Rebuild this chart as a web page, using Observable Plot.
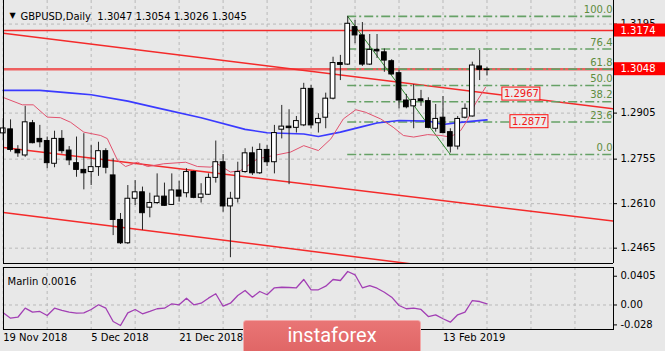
<!DOCTYPE html>
<html><head><meta charset="utf-8">
<script src="https://cdn.jsdelivr.net/npm/d3@7"></script>
<script src="https://cdn.jsdelivr.net/npm/@observablehq/plot@0.6"></script>
<style>
html,body{margin:0;padding:0;background:#e8e8e8;}
#chart{position:relative;width:665px;height:351px;overflow:hidden;background:#e8e8e8;}
#chart svg{position:absolute;left:0;overflow:hidden;}
#logo{position:absolute;left:243px;top:320px;width:178px;height:40px;box-sizing:border-box;
  background:linear-gradient(#e97575,#de6262);border:1px solid #f2a9a9;border-radius:3px;
  color:#fff;font-family:Roboto,"Liberation Sans",sans-serif;font-size:20px;text-align:center;line-height:29px;}
</style></head>
<body><div id="chart"><div id="logo">instaforex</div></div>
<script>
// ---- data (bar index 0 = 19 Nov 2018 ... 66 = 21 Feb 2019) ----
const symbol = "GBPUSD", timeframe = "Daily";
const opens  = [1.2839,1.2852,1.2785,1.2767,1.2872,1.2821,1.2814,1.2740,1.2821,1.2783,1.2742,1.2720,1.2713,1.2729,1.2781,1.2702,1.2557,1.2481,1.2626,1.2647,1.2597,1.2612,1.2633,1.2606,1.2653,1.2644,1.2713,1.2629,1.2639,1.2694,1.2745,1.2601,1.2626,1.2713,1.2774,1.2709,1.2785,1.2745,1.2851,1.2861,1.2857,1.2865,1.2984,1.2872,1.2890,1.2952,1.3068,1.3063,1.3185,1.3158,1.3063,1.3111,1.3103,1.3074,1.3035,1.2946,1.2927,1.2950,1.2944,1.2854,1.2890,1.2843,1.2796,1.2890,1.2894,1.3057,1.3047];
const highs  = [1.2887,1.2883,1.2799,1.2927,1.2881,1.2865,1.2827,1.2846,1.2848,1.2796,1.2827,1.2838,1.2799,1.2810,1.2789,1.2756,1.2578,1.2669,1.2685,1.2664,1.2644,1.2707,1.2677,1.2707,1.2683,1.2724,1.2716,1.2675,1.2707,1.2814,1.2770,1.2647,1.2745,1.2789,1.2794,1.2805,1.2799,1.2865,1.2930,1.2916,1.2894,1.3002,1.2995,1.2903,1.2970,1.3087,1.3093,1.3220,1.3207,1.3200,1.3161,1.3161,1.3114,1.3079,1.3044,1.2966,1.2998,1.2979,1.2955,1.2933,1.2959,1.2854,1.2894,1.2935,1.3071,1.3109,1.3054];
const lows   = [1.2816,1.2778,1.2761,1.2761,1.2805,1.2792,1.2724,1.2727,1.2772,1.2734,1.2696,1.2655,1.2669,1.2699,1.2707,1.2506,1.2477,1.2477,1.2604,1.2523,1.2564,1.2607,1.2601,1.2604,1.2615,1.2629,1.2626,1.2612,1.2637,1.2677,1.2582,1.2434,1.2612,1.2709,1.2702,1.2705,1.2731,1.2707,1.2821,1.2672,1.2840,1.2861,1.2854,1.2840,1.2854,1.2948,1.3011,1.3060,1.3131,1.3057,1.3060,1.3083,1.3038,1.3028,1.2919,1.2919,1.2854,1.2927,1.2854,1.2843,1.2838,1.2775,1.2785,1.2886,1.2892,1.3011,1.3026];
const closes = [1.2855,1.2785,1.2774,1.2875,1.2807,1.2810,1.2742,1.2821,1.2781,1.2751,1.2720,1.2709,1.2729,1.2781,1.2727,1.2557,1.2481,1.2626,1.2647,1.2579,1.2612,1.2633,1.2603,1.2653,1.2633,1.2713,1.2629,1.2640,1.2694,1.2745,1.2601,1.2626,1.2713,1.2774,1.2709,1.2785,1.2745,1.2840,1.2861,1.2856,1.2879,1.2984,1.2865,1.2886,1.2952,1.3068,1.3062,1.3196,1.3158,1.3063,1.3111,1.3106,1.3076,1.3031,1.2946,1.2924,1.2948,1.2944,1.2857,1.2886,1.2840,1.2796,1.2886,1.2919,1.3060,1.3046,1.3045];
const marlin = [-0.0110,-0.0186,-0.0172,-0.0045,-0.0101,-0.0091,-0.0148,-0.0045,-0.0077,-0.0101,-0.0115,-0.0110,-0.0063,0.0003,-0.0045,-0.0232,-0.0288,-0.0110,-0.0063,-0.0124,-0.0091,-0.0053,-0.0045,0.0017,0.0003,0.0096,0.0003,0.0025,0.0096,0.0158,-0.0017,0.0025,0.0134,0.0204,0.0110,0.0190,0.0144,0.0242,0.0250,0.0246,0.0242,0.0359,0.0214,0.0214,0.0265,0.0359,0.0345,0.0471,0.0425,0.0242,0.0274,0.0236,0.0180,0.0110,-0.0007,-0.0053,-0.0045,-0.0063,-0.0162,-0.0138,-0.0194,-0.0242,-0.0138,-0.0101,0.0063,0.0049,0.0016];

// moving average (blue) and thin crimson curve, read at sample bars
const maIdx = [0,5,9,12,17,21,27,33,36,41,43,46,49,51,54,58,60,62,66];
const maVal = [1.2979,1.2979,1.2971,1.2965,1.2944,1.2922,1.2890,1.2852,1.2841,1.2837,1.2829,1.2843,1.2861,1.2873,1.2881,1.2879,1.2868,1.2874,1.2883];
const curveIdx = [0,2.6,4.1,6,7.8,9.2,11,13.3,14.2,15.6,16.7,18.3,19.7,21.9,24.9,26.5,28.3,29.2,31,32.4,34.7,36.9,39.2,41,43,44.7,46.4,48.1,49.4,51.5,53.2,54.6,56,57.9,59.7,61,62.4,63.3,64.4,65.8];
const curveVal = [1.2956,1.2932,1.2932,1.2892,1.2890,1.2875,1.2843,1.2832,1.2822,1.2751,1.2731,1.2745,1.2731,1.2740,1.2745,1.2731,1.2729,1.2740,1.2713,1.2718,1.2756,1.2767,1.2778,1.2799,1.2783,1.2821,1.2886,1.2916,1.2908,1.2886,1.2859,1.2832,1.2827,1.2835,1.2832,1.2827,1.2848,1.2881,1.2935,1.2989];

// trend lines (channel)
const trendStartIdx = [0.04, 0.04, 0.04];
const trendStartPrice = [1.3165, 1.2793, 1.2581];
const trendEndIdx = [83.26, 83.26, 83.26];
const trendEndPrice = [1.2919, 1.2553, 1.2331];

// horizontal levels
const redLevels = [1.3174];
const currentLevel = [1.3048];
const axisBoxPrices = [1.3174, 1.3048];

// fibonacci retracement
const fibPct = [0, 23.6, 38.2, 50, 61.8, 76.4, 100];
const fibLow = 1.2770, fibHigh = 1.3220, fibHighIdx = 47, fibLowIdx = 61;

// in-chart price labels
const chartLabelIdx = [68.1, 69.2];
const chartLabelPrice = [1.2967, 1.2877];

// axes
const yTicks = [1.2465, 1.2610, 1.2755, 1.2905, 1.3050, 1.3195];
const indTicks = [0.0405, 0, -0.028];
const indTickLabels = ["0.0405", "0.00", "-0.028"];
const gridIdx = [0,6,12,18,24,30,36,42,48,54,60,66,72,78];
const dateIdx = [0,12,24,60];
const dateLabels = ["19 Nov 2018","5 Dec 2018","21 Dec 2018","13 Feb 2019"];

// ---- build ----
const xDomain = [0.04, 83.26];
const yDomain = [1.24151, 1.32718];
const bars = opens.map((o, i) => ({i, o, h: highs[i], l: lows[i], c: closes[i]}));
const ma = maIdx.map((i, k) => ({i, p: maVal[k]}));
const curve = curveIdx.map((i, k) => ({i, p: curveVal[k]}));
const trends = trendStartIdx.map((x, k) => ({x1: x, y1: trendStartPrice[k], x2: trendEndIdx[k], y2: trendEndPrice[k]}));
const fib = fibPct.map(p => ({pct: p, p: fibLow + p / 100 * (fibHigh - fibLow)}));
const chartLabels = chartLabelIdx.map((i, k) => ({i, p: chartLabelPrice[k]}));
const last = bars[bars.length - 1];
const header = `${symbol},${timeframe}  ${last.o.toFixed(4)} ${last.h.toFixed(4)} ${last.l.toFixed(4)} ${last.c.toFixed(4)}`;

const font = {background: "transparent", fontFamily: "DejaVu Sans", fontSize: "10px", color: "#000"};
const gridStyle = {stroke: "#b9b9b9", strokeDasharray: "3,3", strokeWidth: 1};
const red = "#f42a2a";

const main = Plot.plot({
  width: 665, height: 264,
  marginLeft: 3, marginRight: 52, marginTop: 0, marginBottom: 1,
  style: font,
  x: {domain: xDomain, axis: null},
  y: {domain: yDomain, axis: null},
  marks: [
    Plot.ruleX(gridIdx, gridStyle),
    Plot.ruleY(yTicks, gridStyle),
    Plot.ruleY(currentLevel, {stroke: "#ee5f5f", strokeWidth: 2.6}),
    Plot.ruleY(redLevels, {stroke: red, strokeWidth: 1.4}),
    Plot.link(trends, {x1: "x1", y1: "y1", x2: "x2", y2: "y2", stroke: red, strokeWidth: 1.5, clip: true}),
    Plot.ruleY(fib, {y: "p", x1: fibHighIdx, x2: xDomain[1], stroke: "#66a166", strokeWidth: 1.6, strokeDasharray: "9,3,2,3"}),
    Plot.link([{}], {x1: fibHighIdx, y1: fibHigh, x2: fibLowIdx, y2: fibLow, stroke: "#2f8a2f", strokeWidth: 1}),
    Plot.line(ma, {x: "i", y: "p", stroke: "#3a3aff", strokeWidth: 1.6}),
    Plot.line(curve, {x: "i", y: "p", stroke: "#e2526e", strokeWidth: 1}),
    Plot.ruleX(bars, {x: "i", y1: "l", y2: "h", stroke: "#262626", strokeWidth: 1}),
    Plot.rect(bars, {x1: d => d.i - 0.5, x2: d => d.i + 0.5,
      y1: d => Math.min(d.o, d.c), y2: d => Math.max(d.o, d.c),
      fill: d => d.c > d.o ? "#ffffff" : "#000000", stroke: "#000", strokeWidth: 1,
      insetLeft: 1.3, insetRight: 1.3}),
    Plot.text(fib, {x: xDomain[1], y: "p", text: d => d.pct.toFixed(1), textAnchor: "end", dx: -1, dy: -6.5, fill: "#5e8c3e"}),
    Plot.rect(chartLabels, {x1: "i", x2: "i", y1: "p", y2: "p", insetRight: -38, insetTop: -6.5, insetBottom: -6.5, fill: "#ececec", stroke: "#ff1010", strokeWidth: 1}),
    Plot.text(chartLabels, {x: "i", y: "p", text: d => d.p.toFixed(4), dx: 19, fill: "#f01818"}),
    Plot.ruleY(yTicks, {x1: xDomain[1], x2: xDomain[1], insetRight: -4, stroke: "#000"}),
    Plot.text(yTicks, {x: xDomain[1], y: d => d, text: d => d.toFixed(4), textAnchor: "start", dx: 7}),
    Plot.rect(axisBoxPrices, {x1: xDomain[1], x2: xDomain[1], y1: d => d, y2: d => d, insetRight: -52, insetTop: -6.5, insetBottom: -6.5, fill: "#ff0000"}),
    Plot.text(axisBoxPrices, {x: xDomain[1], y: d => d, text: d => d.toFixed(4), textAnchor: "start", dx: 7, fill: "#ffffff"}),
    Plot.text([header], {frameAnchor: "top-left", text: d => d, textAnchor: "start", dx: 17, dy: 12}),
    Plot.text(["\u25BC"], {frameAnchor: "top-left", text: d => d, dx: 6, dy: 12, fontSize: 8}),
    Plot.ruleX([xDomain[0], xDomain[1]], {stroke: "#000"}),
    Plot.ruleY([yDomain[0]], {stroke: "#000"})
  ]
});

const ind = Plot.plot({
  width: 665, height: 87,
  marginLeft: 3, marginRight: 52, marginTop: 3, marginBottom: 22,
  style: font,
  x: {domain: xDomain, axis: null},
  y: {domain: [-0.03448, 0.05277], axis: null},
  marks: [
    Plot.ruleX(gridIdx, gridStyle),
    Plot.ruleY([0], gridStyle),
    Plot.line(marlin.map((v, i) => ({i, v})), {x: "i", y: "v", stroke: "#a23fb4", strokeWidth: 1.3}),
    Plot.frame({stroke: "#000"}),
    Plot.text([`Marlin ${marlin[marlin.length - 1].toFixed(4)}`], {frameAnchor: "top-left", text: d => d, textAnchor: "start", dx: 4, dy: 10.5}),
    Plot.ruleY(indTicks, {x1: xDomain[1], x2: xDomain[1], insetRight: -4, stroke: "#000"}),
    Plot.text(indTicks, {x: xDomain[1], y: d => d, text: (d, i) => indTickLabels[i], textAnchor: "start", dx: 7}),
    Plot.text(dateIdx, {x: d => d, frameAnchor: "bottom", text: (d, i) => dateLabels[i], textAnchor: "start", dy: 11})
  ]
});

const chart = document.getElementById("chart");
main.style.top = "0px";
ind.style.top = "264px";
chart.insertBefore(ind, chart.firstChild);
chart.insertBefore(main, chart.firstChild);
</script>
</body></html>
